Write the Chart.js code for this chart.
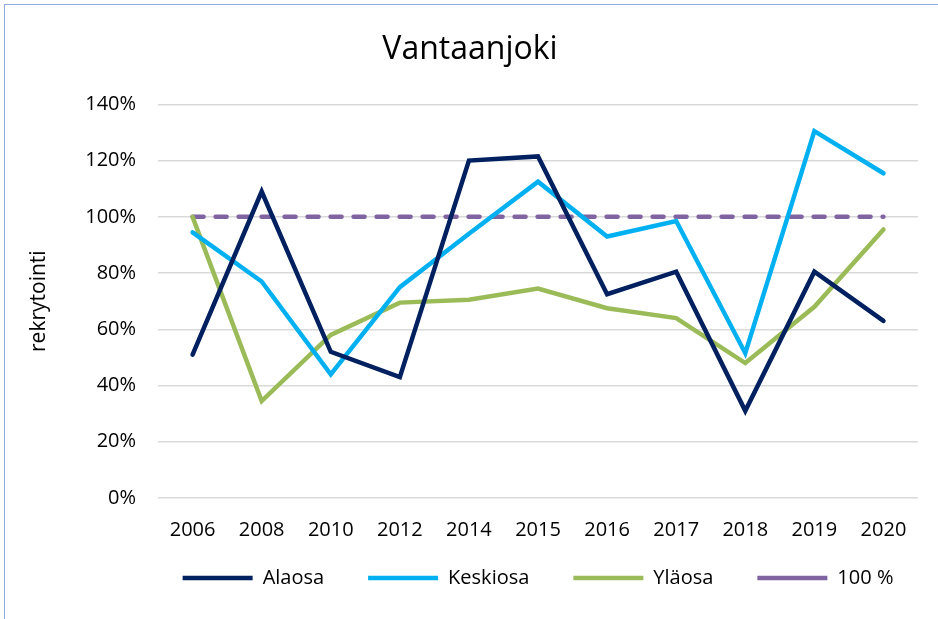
<!DOCTYPE html>
<html>
<head>
<meta charset="utf-8">
<script src="https://cdn.jsdelivr.net/npm/chart.js@4.4.0/dist/chart.umd.min.js"></script>
<style>
  body { margin: 0; background: #fff; overflow: hidden; }
  #frame { position: absolute; left: 4px; top: 4px; width: 960px; height: 640px; border: 1px solid #8faadc; }
  #wrap { position: absolute; left: 0; top: 0; width: 938px; height: 619px; }
</style>
</head>
<body>
<div id="frame"></div>
<div id="wrap"><canvas id="chart"></canvas></div>
<script>
var years = ["2006", "2008", "2010", "2012", "2014", "2015", "2016", "2017", "2018", "2019", "2020"];
var alaosa = [51, 109, 52, 43, 120, 121.5, 72.5, 80.5, 31, 80.5, 63];
var keskiosa = [94.5, 77, 44, 75, 94, 112.5, 93, 98.5, 51.5, 130.5, 115.5];
var ylaosa = [100, 34.5, 58, 69.5, 70.5, 74.5, 67.5, 64, 48, 68, 95.5];
var target = [100, 100, 100, 100, 100, 100, 100, 100, 100, 100, 100];

var font = "'Open Sans', 'Noto Sans', sans-serif";

function lineSet(label, data, color, dash) {
  return {
    label: label,
    data: data,
    borderColor: color,
    backgroundColor: color,
    borderWidth: 4.5,
    borderDash: dash || [],
    borderCapStyle: 'round',
    borderJoinStyle: 'miter',
    pointRadius: 0,
    tension: 0
  };
}

new Chart(document.getElementById('chart'), {
  type: 'line',
  data: {
    labels: years,
    datasets: [
      lineSet("Alaosa", alaosa, "#002060"),
      lineSet("Keskiosa", keskiosa, "#00b0f0"),
      lineSet("Yläosa", ylaosa, "#9bbb59"),
      lineSet("100 %", target, "#8064a2", [11, 12])
    ]
  },
  options: {
    responsive: true,
    maintainAspectRatio: false,
    animation: false,
    layout: { padding: { left: 22, right: 20, top: 23, bottom: 21 } },
    plugins: {
      title: {
        display: true,
        text: "Vantaanjoki",
        color: "#000",
        font: { family: font, size: 32, weight: 'normal' },
        padding: { top: 8, bottom: 35 }
      },
      legend: {
        position: 'bottom',
        fullSize: false,
        labels: {
          usePointStyle: true,
          pointStyle: 'line',
          pointStyleWidth: 70,
          color: "#000",
          font: { family: font, size: 20 },
          padding: 14,
          // wider gaps between items than the small vertical padding
          generateLabels: function(chart) {
            var items = Chart.defaults.plugins.legend.labels.generateLabels(chart);
            items.forEach(function(it, i) {
              if (i < items.length - 1) it.text = it.text + "\u2003\u2002";
            });
            return items;
          }
        }
      },
      tooltip: { enabled: false }
    },
    scales: {
      x: {
        offset: true,
        grid: { display: false },
        border: { display: false },
        ticks: { color: "#000", font: { family: font, size: 20, lineHeight: 0.8 }, padding: 16 }
      },
      y: {
        min: 0,
        max: 140,
        ticks: {
          stepSize: 20,
          color: "#000",
          font: { family: font, size: 20 },
          padding: 22,
          callback: function(v) { return v + "%"; }
        },
        grid: { color: "#d9d9d9", lineWidth: 1.5, drawTicks: false },
        border: { display: false },
        title: {
          display: true,
          text: "rekrytointi",
          color: "#000",
          font: { family: font, size: 21 },
          padding: { top: 4, bottom: 12 }
        }
      }
    }
  }
});
</script>
</body>
</html>
